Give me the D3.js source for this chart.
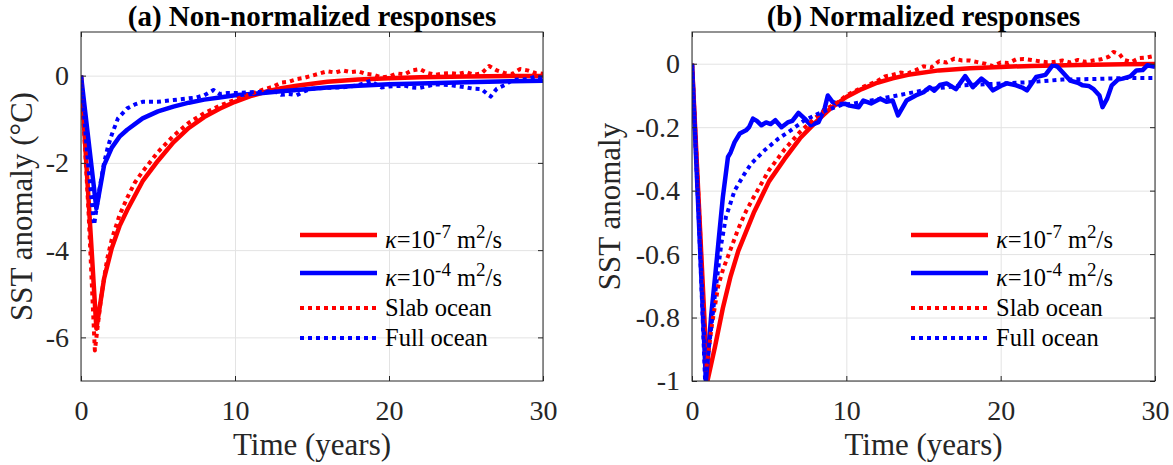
<!DOCTYPE html>
<html>
<head>
<meta charset="utf-8">
<script src="https://cdn.jsdelivr.net/npm/d3@7"></script>
<style>
  body { margin: 0; background: #fff; }
  svg text { font-family: "Liberation Serif", "Times New Roman", serif; fill: #262626; }
</style>
</head>
<body>
<svg id="chart" width="1173" height="465" font-family="Liberation Serif"></svg>
<script>
// ---- data ----
var tSmooth = [0, 1, 1.5, 2, 2.5, 3, 4, 5, 6, 7, 8, 9, 10, 11, 12, 13, 14, 16, 18, 20, 22, 25, 28, 30];

// (a) non-normalized, degC
var kappa7A = [0, -5.8, -4.65, -3.95, -3.45, -3.08, -2.42, -1.95, -1.53, -1.2, -0.95, -0.76, -0.6, -0.47, -0.37, -0.29, -0.23, -0.14, -0.09, -0.06, -0.04, -0.02, -0.01, -0.01];
var kappa4A = [0, -3.05, -2.05, -1.65, -1.4, -1.24, -0.98, -0.82, -0.71, -0.62, -0.55, -0.5, -0.45, -0.42, -0.39, -0.36, -0.33, -0.27, -0.23, -0.2, -0.18, -0.15, -0.13, -0.12];

var slabAT = [0, 0.5, 0.9, 1.3, 1.7, 2, 2.5, 3, 3.5, 4, 5, 6, 7, 8, 9, 10, 11, 12, 12.5, 13, 13.5, 14, 14.5, 15, 15.5, 16, 16.5, 17, 17.5, 18, 18.5, 19, 19.5, 20, 20.5, 21, 21.5, 22, 22.5, 23, 23.5, 24, 24.5, 25, 25.5, 26, 26.5, 27, 27.5, 28, 28.5, 29, 29.5, 30];
var slabA = [0, -3.2, -6.3, -5.1, -4.2, -3.75, -3.2, -2.8, -2.45, -2.2, -1.75, -1.38, -1.08, -0.86, -0.69, -0.55, -0.42, -0.3, -0.25, -0.16, -0.14, -0.08, -0.05, 0.0, 0.05, 0.1, 0.07, 0.12, 0.08, 0.1, 0.04, 0.02, -0.04, -0.02, 0.05, 0.03, 0.12, 0.15, 0.06, 0.02, 0.05, 0.06, 0.04, 0.08, 0.02, 0.05, 0.22, 0.12, 0.06, 0.04, 0.15, 0.12, 0.06, 0.04];

var fullAT = [0, 0.4, 0.85, 1.2, 1.5, 1.75, 2, 2.4, 3, 3.5, 4, 4.5, 5, 6, 7, 7.5, 8, 8.6, 9, 9.5, 10, 11, 12, 12.5, 13, 13.5, 14, 14.5, 15, 16, 17, 18, 18.8, 19.5, 20, 21, 21.5, 22, 23, 24, 25, 25.5, 26, 26.6, 27, 27.5, 28, 29, 29.5, 30];
var fullA = [0, -1.8, -3.42, -2.6, -2.0, -1.63, -1.35, -0.98, -0.75, -0.66, -0.6, -0.6, -0.6, -0.56, -0.52, -0.5, -0.45, -0.33, -0.42, -0.4, -0.4, -0.38, -0.37, -0.35, -0.44, -0.42, -0.45, -0.36, -0.3, -0.28, -0.27, -0.22, -0.12, -0.27, -0.25, -0.23, -0.27, -0.28, -0.2, -0.22, -0.27, -0.3, -0.31, -0.48, -0.3, -0.22, -0.1, -0.08, -0.02, -0.05];

// (b) normalized
var kappa7B = [0, -1.0, -0.89, -0.77, -0.67, -0.59, -0.47, -0.37, -0.3, -0.235, -0.185, -0.14, -0.105, -0.08, -0.06, -0.046, -0.035, -0.021, -0.014, -0.01, -0.007, -0.004, -0.002, -0.001];

var kappa4BT = [0, 0.45, 0.9, 1.25, 1.5, 1.7, 2.0, 2.33, 2.5, 2.76, 3.1, 3.5, 3.7, 3.95, 4.2, 4.5, 4.8, 5.1, 5.4, 5.8, 6.2, 6.5, 6.9, 7.3, 7.7, 8.2, 8.6, 8.8, 9.1, 9.5, 9.9, 10.2, 10.8, 11.1, 11.6, 12.2, 12.6, 13.0, 13.35, 13.9, 14.5, 15.0, 15.4, 15.7, 16.06, 16.5, 17.1, 17.7, 18.2, 18.75, 19.1, 19.5, 20.0, 20.4, 21.0, 21.4, 21.7, 22.3, 22.9, 23.4, 23.7, 24.0, 24.5, 25.0, 25.3, 25.7, 26.0, 26.4, 26.6, 26.9, 27.2, 27.6, 27.9, 28.4, 28.8, 29.2, 29.5, 30];
var kappa4B = [0, -0.5, -1.0, -0.79, -0.67, -0.57, -0.42, -0.294, -0.28, -0.247, -0.22, -0.21, -0.2, -0.173, -0.18, -0.194, -0.185, -0.19, -0.178, -0.2, -0.185, -0.18, -0.155, -0.173, -0.194, -0.184, -0.14, -0.1, -0.12, -0.128, -0.126, -0.132, -0.137, -0.116, -0.125, -0.11, -0.12, -0.116, -0.163, -0.116, -0.1, -0.09, -0.074, -0.085, -0.067, -0.062, -0.08, -0.039, -0.074, -0.047, -0.06, -0.084, -0.07, -0.062, -0.068, -0.075, -0.084, -0.042, -0.035, -0.003, -0.01, -0.026, -0.053, -0.06, -0.068, -0.07, -0.079, -0.1, -0.137, -0.11, -0.068, -0.05, -0.047, -0.04, -0.021, -0.02, -0.005, -0.01];

var slabBT = [0, 0.5, 0.9, 1.3, 1.7, 2, 2.5, 3, 3.5, 4, 5, 6, 7, 8, 8.8, 9.5, 10, 11, 12, 12.5, 13, 13.5, 14, 14.5, 15, 15.5, 16, 16.5, 17, 17.5, 18, 18.5, 19, 19.5, 20, 20.5, 21, 21.5, 22, 22.5, 23, 23.5, 24, 24.5, 25, 25.5, 26, 26.5, 27, 27.3, 27.7, 28, 28.5, 29, 29.5, 30];
var slabB = [0, -0.5, -0.97, -0.82, -0.7, -0.65, -0.585, -0.52, -0.465, -0.42, -0.335, -0.27, -0.215, -0.17, -0.14, -0.12, -0.1, -0.075, -0.055, -0.04, -0.035, -0.028, -0.03, -0.02, -0.008, -0.012, 0.008, 0.004, 0.016, 0.01, 0.01, 0.005, 0.0, -0.008, 0.004, 0.002, 0.014, 0.015, 0.012, 0.008, 0.005, 0.006, 0.01, 0.004, 0.012, 0.006, 0.01, 0.014, 0.022, 0.037, 0.03, 0.012, 0.006, 0.018, 0.02, 0.025];

var fullBT = [0, 0.45, 0.85, 1.2, 1.47, 1.9, 2.2, 2.76, 3.4, 3.84, 4.7, 5.6, 6.4, 7.3, 8.16, 9.0, 9.7, 10.5, 11.7, 13.3, 15.4, 17.6, 19.7, 21.9, 24, 26.2, 28, 30];
var fullB = [0, -0.5, -1.0, -0.85, -0.735, -0.567, -0.483, -0.4, -0.347, -0.315, -0.273, -0.236, -0.21, -0.178, -0.158, -0.142, -0.13, -0.125, -0.115, -0.1, -0.08, -0.068, -0.063, -0.058, -0.05, -0.048, -0.045, -0.045];

var xTicks = [0, 10, 20, 30];
var yTicksA = [0, -2, -4, -6];
var yTicksB = [0, -0.2, -0.4, -0.6, -0.8, -1];

var RED = "#ff0000", BLUE = "#0000ff";
var SERIF = "Liberation Serif";
var DOTS = "4,4";

var svg = d3.select("#chart");

function zip(t, v) {
  return t.map(function(d, i) { return [d, v[i]]; });
}

function drawPanel(cfg) {
  var x = d3.scaleLinear().domain([0, 30]).range([cfg.left, cfg.right]);
  var y = d3.scaleLinear().domain(cfg.ydomain).range([cfg.bottom, cfg.top]);
  var g = svg.append("g");
  var w = cfg.right - cfg.left, h = cfg.bottom - cfg.top;

  // grid
  g.append("g").attr("transform", "translate(0," + cfg.bottom + ")")
    .call(d3.axisBottom(x).tickValues(xTicks).tickSize(-h).tickFormat(""))
    .call(function(s) { s.select(".domain").remove(); s.selectAll("line").attr("stroke", "#e3e3e3"); });
  g.append("g").attr("transform", "translate(" + cfg.left + ",0)")
    .call(d3.axisLeft(y).tickValues(cfg.yticks).tickSize(-w).tickFormat(""))
    .call(function(s) { s.select(".domain").remove(); s.selectAll("line").attr("stroke", "#e3e3e3"); });

  var clipId = "clip" + cfg.id;
  svg.append("clipPath").attr("id", clipId).append("rect")
    .attr("x", cfg.left).attr("y", cfg.top).attr("width", w).attr("height", h);

  var line = d3.line().x(function(d) { return x(d[0]); }).y(function(d) { return y(d[1]); });
  var plot = g.append("g").attr("clip-path", "url(#" + clipId + ")");
  cfg.series.forEach(function(s) {
    plot.append("path").datum(s.data).attr("d", line)
      .attr("fill", "none").attr("stroke", s.color)
      .attr("stroke-width", s.dash ? 4 : 4.5)
      .attr("stroke-dasharray", s.dash ? DOTS : null)
      .attr("stroke-linejoin", "round");
  });

  // axes with inward ticks on all four sides
  var tickLen = 5;
  g.append("g").attr("transform", "translate(0," + cfg.bottom + ")")
    .call(d3.axisBottom(x).tickValues(xTicks).tickSize(-tickLen).tickPadding(19).tickFormat(function(d) { return String(d); }))
    .call(function(s) { s.select(".domain").remove(); s.attr("font-family", SERIF); s.selectAll("text").attr("font-size", 28).attr("dy", "0.71em"); });
  g.append("g").attr("transform", "translate(0," + cfg.top + ")")
    .call(d3.axisTop(x).tickValues(xTicks).tickSize(-tickLen).tickFormat(""))
    .call(function(s) { s.select(".domain").remove(); });
  g.append("g").attr("transform", "translate(" + cfg.left + ",0)")
    .call(d3.axisLeft(y).tickValues(cfg.yticks).tickSize(-tickLen).tickPadding(12).tickFormat(function(d) { return String(d); }))
    .call(function(s) { s.select(".domain").remove(); s.attr("font-family", SERIF); s.selectAll("text").attr("font-size", 28); });
  g.append("g").attr("transform", "translate(" + cfg.right + ",0)")
    .call(d3.axisRight(y).tickValues(cfg.yticks).tickSize(-tickLen).tickFormat(""))
    .call(function(s) { s.select(".domain").remove(); });
  g.selectAll(".tick line").filter(function() { return this.getAttribute("stroke") !== "#e3e3e3"; })
    .attr("stroke", "#262626");
  g.append("rect").attr("x", cfg.left).attr("y", cfg.top).attr("width", w).attr("height", h)
    .attr("fill", "none").attr("stroke", "#262626").attr("stroke-width", 1);

  // title and labels
  g.append("text").attr("x", (cfg.left + cfg.right) / 2).attr("y", 26)
    .attr("text-anchor", "middle").attr("font-family", SERIF).attr("font-size", 29).attr("font-weight", "bold")
    .style("fill", "#000").text(cfg.title);
  g.append("text").attr("x", (cfg.left + cfg.right) / 2).attr("y", 455)
    .attr("text-anchor", "middle").attr("font-family", SERIF).attr("font-size", 31).text("Time (years)");
  g.append("text").attr("transform", "translate(" + cfg.ylabelX + "," + (cfg.top + cfg.bottom) / 2 + ") rotate(-90)")
    .attr("text-anchor", "middle").attr("font-family", SERIF).attr("font-size", 31).text(cfg.ylabel);

  // legend
  var lg = g.append("g");
  var rows = [
    { color: RED, dash: false, exp: "-7", y: 235 },
    { color: BLUE, dash: false, exp: "-4", y: 273 },
    { color: RED, dash: true, label: "Slab ocean", y: 308 },
    { color: BLUE, dash: true, label: "Full ocean", y: 338 }
  ];
  rows.forEach(function(r) {
    lg.append("line").attr("x1", cfg.legendX).attr("x2", cfg.legendX + 77)
      .attr("y1", r.y).attr("y2", r.y).attr("stroke", r.color)
      .attr("stroke-width", r.dash ? 4 : 4.5).attr("stroke-dasharray", r.dash ? DOTS : null);
    var t = lg.append("text").attr("x", cfg.legendX + 85).attr("font-family", SERIF)
      .attr("font-size", 24.5).style("fill", "#000");
    if (r.dash) {
      t.attr("y", r.y + 8).text(r.label);
    } else {
      t.attr("y", r.y + 13);
      t.append("tspan").attr("font-style", "italic").text("\u03ba");
      t.append("tspan").text("=10");
      t.append("tspan").attr("font-size", 19).attr("dy", -10).text(r.exp);
      t.append("tspan").attr("dy", 10).text(" m");
      t.append("tspan").attr("font-size", 19).attr("dy", -10).text("2");
      t.append("tspan").attr("dy", 10).text("/s");
    }
  });
}

drawPanel({
  id: "a", left: 81, right: 543, top: 32, bottom: 381,
  ydomain: [-7, 1], yticks: yTicksA, ylabelX: 32,
  title: "(a) Non-normalized responses", ylabel: "SST anomaly (\u00b0C)",
  legendX: 300,
  series: [
    { data: zip(tSmooth, kappa7A), color: RED, dash: false },
    { data: zip(tSmooth, kappa4A), color: BLUE, dash: false },
    { data: zip(slabAT, slabA), color: RED, dash: true },
    { data: zip(fullAT, fullA), color: BLUE, dash: true }
  ]
});

drawPanel({
  id: "b", left: 692, right: 1155, top: 32, bottom: 381,
  ydomain: [-1, 0.1], yticks: yTicksB, ylabelX: 620,
  title: "(b) Normalized responses", ylabel: "SST anomaly",
  legendX: 911,
  series: [
    { data: zip(tSmooth, kappa7B), color: RED, dash: false },
    { data: zip(kappa4BT, kappa4B), color: BLUE, dash: false },
    { data: zip(slabBT, slabB), color: RED, dash: true },
    { data: zip(fullBT, fullB), color: BLUE, dash: true }
  ]
});
</script>
</body>
</html>
